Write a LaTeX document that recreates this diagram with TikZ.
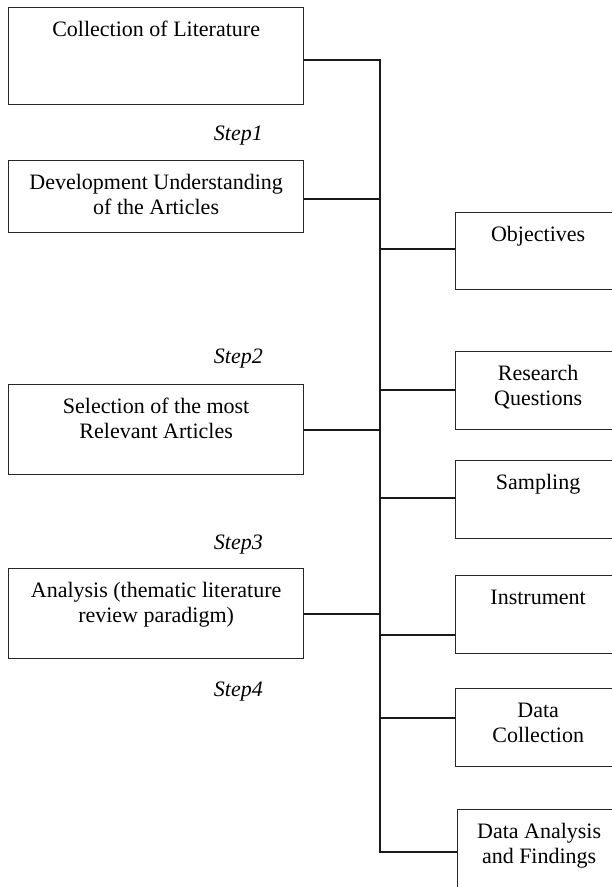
\documentclass[tikz,border=0pt]{standalone}
\usepackage{fontspec}
\setmainfont{Liberation Serif}
\usetikzlibrary{positioning}

% box text sits at the top of the box
\newcommand{\boxtxt}[3]{\parbox[c][#1][t]{#2}{\centering\strut #3}}

\begin{document}
\begin{tikzpicture}[
  x=1pt, y=-1pt,
  lbox/.style={rectangle, draw=black!85, line width=1.3pt, anchor=north west,
    inner xsep=0pt, inner ysep=11pt, font=\fontsize{22}{25}\selectfont},
  steplabel/.style={anchor=east, inner sep=0pt,
    font=\fontsize{22}{25}\selectfont\itshape},
  link/.style={line width=2.2pt, color=black!90}
]
  \useasboundingbox (0,0) rectangle (612,887);
  \clip (0,0) rectangle (612,887);

  % left column
  \node[lbox] (collect) at (8,7)   {\boxtxt{75pt}{295pt}{Collection of Literature}};
  \node[lbox] (develop) at (8,160) {\boxtxt{50pt}{295pt}{Development Understanding\\of the Articles}};
  \node[lbox] (select)  at (8,384) {\boxtxt{68pt}{295pt}{Selection of the most\\Relevant Articles}};
  \node[lbox] (analyse) at (8,568) {\boxtxt{68pt}{295pt}{Analysis (thematic literature\\review paradigm)}};

  \node[steplabel] (step1) at (263,136) {Step1};
  \node[steplabel] (step2) at (263,359) {Step2};
  \node[steplabel] (step3) at (263,545) {Step3};
  \node[steplabel] (step4) at (263,692) {Step4};

  % right column
  \node[lbox] (obj)    at (455,212) {\boxtxt{55pt}{165pt}{Objectives}};
  \node[lbox] (rq)     at (455,351) {\boxtxt{56pt}{165pt}{Research\\Questions}};
  \node[lbox] (sample) at (455,460) {\boxtxt{56pt}{165pt}{Sampling}};
  \node[lbox] (instr)  at (455,575) {\boxtxt{56pt}{165pt}{Instrument}};
  \node[lbox] (collec) at (455,688) {\boxtxt{56pt}{165pt}{Data\\Collection}};
  \node[lbox] (findg)  at (457,809) {\boxtxt{63pt}{163pt}{Data Analysis\\and Findings}};

  % spine
  \coordinate (spinetop) at (380,60);
  \coordinate (spinebot) at (380,852);

  \draw[link] (collect.east |- spinetop) -- (spinetop) -- (spinebot) -- (spinebot -| findg.west);
  \draw[link] ([yshift=-2pt]develop.east) -- ([yshift=-2pt]develop.east -| spinetop);
  \draw[link] (select.east)  -- (select.east -| spinetop);
  \draw[link] (analyse.east) -- (analyse.east -| spinetop);

  \draw[link] ([yshift=2.5pt]obj.west)  -- ([yshift=2.5pt]obj.west -| spinetop);
  \draw[link] ([yshift=1pt]rq.west)     -- ([yshift=1pt]rq.west -| spinetop);
  \draw[link] ([yshift=2pt]sample.west) -- ([yshift=2pt]sample.west -| spinetop);
  \draw[link] ([yshift=-20pt]instr.west) -- ([yshift=-20pt]instr.west -| spinetop);
  \draw[link] ([yshift=10pt]collec.west) -- ([yshift=10pt]collec.west -| spinetop);
\end{tikzpicture}
\end{document}
